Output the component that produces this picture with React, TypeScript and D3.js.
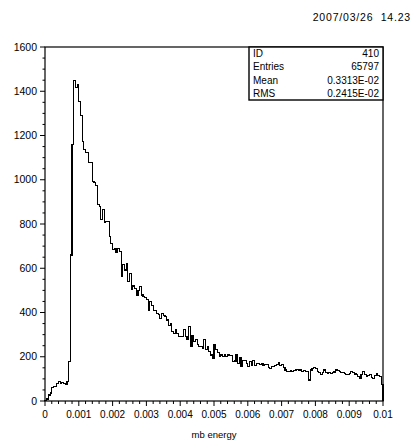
import React from "react";
import * as d3 from "d3";

const counts: number[] = [
  4, 9, 27, 36, 60, 66, 66, 78, 88, 81,
  84, 78, 77, 88, 180, 660, 1159, 1448, 1418, 1432,
  1353, 1290, 1174, 1136, 1124, 1122, 1078, 1076, 993, 986,
  975, 888, 880, 820, 866, 808, 812, 810, 745, 712,
  685, 690, 670, 690, 675, 565, 615, 592, 622, 540,
  577, 502, 520, 509, 475, 500, 517, 479, 471, 468,
  460, 411, 448, 430, 410, 411, 396, 392, 372, 396,
  386, 381, 366, 340, 351, 313, 306, 321, 305, 291,
  290, 290, 325, 290, 276, 335, 245, 295, 268, 276,
  257, 245, 248, 238, 276, 234, 246, 223, 208, 191,
  253, 234, 220, 200, 208, 200, 208, 200, 208, 204,
  205, 178, 181, 211, 170, 196, 155, 182, 185, 170,
  155, 178, 162, 182, 162, 170, 170, 166, 170, 160,
  165, 163, 150, 148, 155, 155, 160, 165, 173, 160,
  163, 150, 140, 132, 135, 138, 133, 137, 140, 142,
  140, 140, 135, 136, 134, 132, 95, 140, 148, 150,
  148, 135, 130, 118, 130, 140, 128, 126, 130, 125,
  130, 131, 140, 138, 132, 128, 127, 125, 120, 118,
  125, 132, 128, 122, 118, 110, 102, 120, 132, 118,
  110, 115, 118, 108, 102, 115, 125, 115, 110, 75,
];

const xMin = 0;
const xMax = 0.01;
const yMax = 1600;

const xTickValues: number[] = [0, 0.001, 0.002, 0.003, 0.004, 0.005, 0.006, 0.007, 0.008, 0.009, 0.01];
const xTickLabels: string[] = ["0", "0.001", "0.002", "0.003", "0.004", "0.005", "0.006", "0.007", "0.008", "0.009", "0.01"];
const yTickValues: number[] = [0, 200, 400, 600, 800, 1000, 1200, 1400, 1600];

const statLabels: string[] = ["ID", "Entries", "Mean", "RMS"];
const statValues: string[] = ["410", "65797", "0.3313E-02", "0.2415E-02"];

const dateText = "2007/03/26  14.23";
const xTitle = "mb energy";

const FONT = "'Liberation Sans', Arial, Helvetica, sans-serif";

export default function App() {
  const W = 417;
  const H = 444;
  const left = 45, right = 383, top = 47, bottom = 401;

  const x = d3.scaleLinear().domain([xMin, xMax]).range([left, right]);
  const y = d3.scaleLinear().domain([0, yMax]).range([bottom, top]);

  const n = counts.length;
  const bw = (xMax - xMin) / n;
  const pts: [number, number][] = [[xMin, 0]];
  counts.forEach((c, i) => pts.push([xMin + i * bw, c]));
  pts.push([xMax, counts[n - 1]]);
  pts.push([xMax, 0]);
  const line = d3
    .line<[number, number]>()
    .x((d) => x(d[0]))
    .y((d) => y(d[1]))
    .curve(d3.curveStepAfter);
  const path = line(pts) || "";

  const yMinor = d3.range(0, yMax + 1, 50).filter((v) => v % 200 !== 0);
  const xMinor = d3.range(0, 51).map((k) => k * 0.0002).filter((_, k) => k % 5 !== 0);

  const boxL = 249, boxR = right, boxT = top, boxB = 100;
  const rowH = (boxB - boxT) / 4;

  return (
    <svg width={W} height={H} style={{ position: "absolute", left: 0, top: 0, background: "#fff" }} fontFamily={FONT}>
      <rect x={0} y={0} width={W} height={H} fill="#fff" />
      <text x={411} y={21} fontSize={10.5} letterSpacing={0.8} textAnchor="end" fill="#000" style={{ whiteSpace: "pre" }}>{dateText}</text>

      {/* histogram */}
      <path d={path} fill="none" stroke="#000" strokeWidth={1.1} shapeRendering="crispEdges" />

      {/* frame */}
      <rect x={left} y={top} width={right - left} height={bottom - top} fill="none" stroke="#000" strokeWidth={1.2} />

      {/* y ticks */}
      {yTickValues.map((v) => (
        <g key={"y" + v}>
          <line x1={left - 5} x2={left} y1={y(v)} y2={y(v)} stroke="#000" strokeWidth={1} />
          <text x={left - 8} y={y(v) + 3.5} fontSize={10.5} textAnchor="end" fill="#000">{v}</text>
        </g>
      ))}
      {yMinor.map((v) => (
        <line key={"ym" + v} x1={left - 2.5} x2={left} y1={y(v)} y2={y(v)} stroke="#000" strokeWidth={1} />
      ))}

      {/* x ticks */}
      {xTickValues.map((v, i) => (
        <g key={"x" + i}>
          <line x1={x(v)} x2={x(v)} y1={bottom} y2={bottom + 5} stroke="#000" strokeWidth={1} />
          <text x={x(v)} y={bottom + 17} fontSize={10} textAnchor="middle" fill="#000">{xTickLabels[i]}</text>
        </g>
      ))}
      {xMinor.map((v, i) => (
        <line key={"xm" + i} x1={x(v)} x2={x(v)} y1={bottom} y2={bottom + 3} stroke="#000" strokeWidth={1} />
      ))}

      <text x={(left + right) / 2} y={438} fontSize={9.5} textAnchor="middle" fill="#000">{xTitle}</text>

      {/* stat box */}
      <rect x={boxL} y={boxT} width={boxR - boxL} height={boxB - boxT} fill="#fff" stroke="#000" strokeWidth={1.4} />
      {statLabels.map((s, i) => (
        <g key={s}>
          <text x={boxL + 4} y={boxT + rowH * i + rowH / 2 + 3.5} fontSize={10} fill="#000">{s}</text>
          <text x={boxR - 4} y={boxT + rowH * i + rowH / 2 + 3.5} fontSize={10} textAnchor="end" fill="#000">{statValues[i]}</text>
        </g>
      ))}
    </svg>
  );
}
